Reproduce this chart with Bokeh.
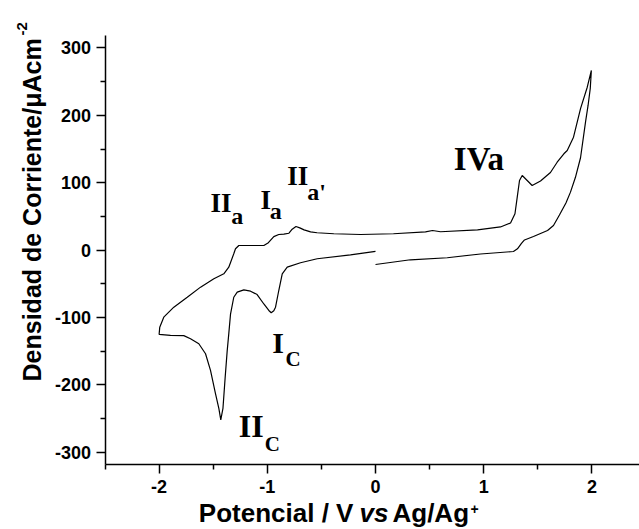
import math
from bokeh.plotting import figure
from bokeh.models import Range1d, FixedTicker, Label
from bokeh.embed import file_html
from bokeh.resources import INLINE

# ---- data: cyclic voltammogram (E / V vs Ag/Ag+, j / uA cm^-2) ----
# scan 0 V -> +2 V (lower right branch)
E_ida = [0.0, 0.323, 0.663, 0.970, 1.275, 1.312, 1.349, 1.377, 1.460, 1.590,
         1.645, 1.700, 1.760, 1.802, 1.848, 1.895, 1.941, 1.965, 1.985, 1.995]
j_ida = [-21.4, -14.4, -11.4, -5.8, -2.1, 1.9, 9.8, 15.0, 20.2, 29.1,
         36.5, 52.0, 70.0, 86.0, 108.0, 137.0, 190.0, 215.0, 240.0, 266.5]

# scan +2 V -> -2 V (upper branch: IVa, IIa', Ia, IIa)
E_vuelta = [1.995, 1.957, 1.895, 1.830, 1.772, 1.741, 1.679, 1.617, 1.525, 1.448,
            1.402, 1.356, 1.331, 1.310, 1.289, 1.248, 1.155, 0.943, 0.601, 0.527,
            0.462, 0.166, -0.139, -0.385, -0.540, -0.600, -0.660, -0.700, -0.735, -0.770,
            -0.800, -0.847, -0.894, -0.940, -0.990, -1.032, -1.186, -1.263, -1.294, -1.310,
            -1.356, -1.402, -1.494, -1.617, -1.740, -1.864, -1.957, -1.994, -2.0]
j_vuelta = [266.5, 241.7, 210.0, 167.5, 147.8, 142.9, 130.4, 115.1, 102.5, 95.8,
            103.3, 110.7, 103.3, 78.5, 53.9, 40.2, 34.3, 30.1, 27.2, 29.1,
            26.9, 24.2, 23.1, 24.2, 25.7, 27.0, 30.0, 33.0, 35.0, 31.0,
            25.0, 23.6, 23.1, 20.0, 11.0, 6.8, 6.8, 6.8, 2.0, -5.5,
            -25.4, -35.2, -42.6, -55.0, -69.9, -84.7, -99.6, -114.4, -125.0]

# scan -2 V -> 0 V (lower branch: IIc, Ic)
E_vuelta_cat = [-2.0, -1.895, -1.772, -1.710, -1.633, -1.571, -1.525, -1.479, -1.448, -1.430,
                -1.410, -1.390, -1.371, -1.356, -1.340, -1.310, -1.278, -1.217, -1.155, -1.094,
                -1.032, -0.986, -0.964, -0.940, -0.924, -0.894, -0.862, -0.816, -0.693, -0.539,
                -0.231, 0.0]
j_vuelta_cat = [-125.0, -126.5, -127.0, -131.6, -139.0, -153.9, -178.6, -213.0, -235.0, -252.0,
                -235.0, -190.0, -150.0, -124.0, -95.0, -70.0, -62.5, -59.0, -61.0, -66.0,
                -80.0, -89.6, -93.0, -90.0, -84.7, -60.0, -35.2, -25.4, -18.8, -12.9,
                -7.0, -2.0]

x_ticks = [-2, -1, 0, 1, 2]
x_tick_labels = ["-2", "-1", "0", "1", "2"]
x_minor = [-2.5, -1.5, -0.5, 0.5, 1.5]
y_ticks = [-300, -200, -100, 0, 100, 200, 300]
y_tick_labels = ["-300", "-200", "-100", "0", "100", "200", "300"]
y_minor = [-250, -150, -50, 50, 150, 250]

E = E_ida + E_vuelta[1:] + E_vuelta_cat[1:]
j = j_ida + j_vuelta[1:] + j_vuelta_cat[1:]

X0, X1 = -2.5, 2.44        # visible x axis extent
Y0, Y1 = -318.4, 318.4     # visible y axis extent

p = figure(width=639, height=529, output_backend="svg", toolbar_location=None,
           x_range=Range1d(-3.466, 2.440), y_range=Range1d(-414.7, 370.4),
           min_border=0, min_border_left=0, min_border_right=0,
           min_border_top=0, min_border_bottom=0)
p.outline_line_color = None
p.xgrid.visible = False
p.ygrid.visible = False
p.background_fill_color = "white"
p.border_fill_color = "white"

p.line(E, j, line_color="black", line_width=1.2)

p.xaxis.ticker = FixedTicker(ticks=x_ticks, minor_ticks=x_minor)
p.yaxis.ticker = FixedTicker(ticks=y_ticks, minor_ticks=y_minor)
p.xaxis.major_label_overrides = {t: s for t, s in zip(x_ticks, x_tick_labels)}
p.yaxis.major_label_overrides = {t: s for t, s in zip(y_ticks, y_tick_labels)}
p.xaxis.fixed_location = Y0
p.yaxis.fixed_location = X0
p.xaxis.bounds = (X0, X1)
p.yaxis.bounds = (Y0, Y1)
for ax in (p.xaxis, p.yaxis):
    ax.axis_line_width = 1.5
    ax.axis_line_color = "black"
    ax.major_tick_line_width = 1.5
    ax.minor_tick_line_width = 1.5
    ax.major_tick_line_color = "black"
    ax.minor_tick_line_color = "black"
    ax.major_tick_out = 9
    ax.major_tick_in = 0
    ax.minor_tick_out = 5
    ax.minor_tick_in = 0
    ax.major_label_text_font = "Liberation Sans"
    ax.major_label_text_font_style = "bold"
    ax.major_label_text_font_size = "18px"
    ax.major_label_text_color = "black"
p.xaxis.major_label_standoff = 6
p.yaxis.major_label_standoff = 5


def lab(x, y, text, size, font="Liberation Serif", style="bold", angle=0.0):
    p.add_layout(Label(x=x, y=y, text=text, text_font=font, text_font_style=style,
                       text_font_size=size, text_color="black", angle=angle,
                       text_align="left", text_baseline="middle"))


# peak annotations
lab(0.724, 134.8, "IVa", "33px")
lab(-1.525, 69.9, "II", "27px")
lab(-1.334, 50.2, "a", "24px")
lab(-1.063, 74.9, "I", "27px")
lab(-0.977, 58.6, "a", "24px")
lab(-0.816, 109.5, "II", "27px")
lab(-0.631, 85.8, "a'", "24px")
lab(-0.955, -137.9, "I", "30px")
lab(-0.832, -162.2, "C", "21px")
lab(-1.263, -261.5, "II", "32px")
lab(-1.023, -288.4, "C", "21px")

# axis titles
sans = "Liberation Sans"
lab(-3.175, -195.0, "Densidad de Corriente/\u03bcAcm", "25px", font=sans,
    angle=math.pi / 2)
lab(-3.263, 318.5, "-2", "15px", font=sans, angle=math.pi / 2)

lab(-1.633, -389.7, "Potencial / V", "26px", font=sans)
lab(-0.148, -389.7, "vs", "26px", font=sans, style="bold italic")
lab(0.157, -389.7, "Ag/Ag", "26px", font=sans)
lab(0.878, -384.5, "+", "14px", font=sans)

open("out.html", "w").write(file_html(p, INLINE))
